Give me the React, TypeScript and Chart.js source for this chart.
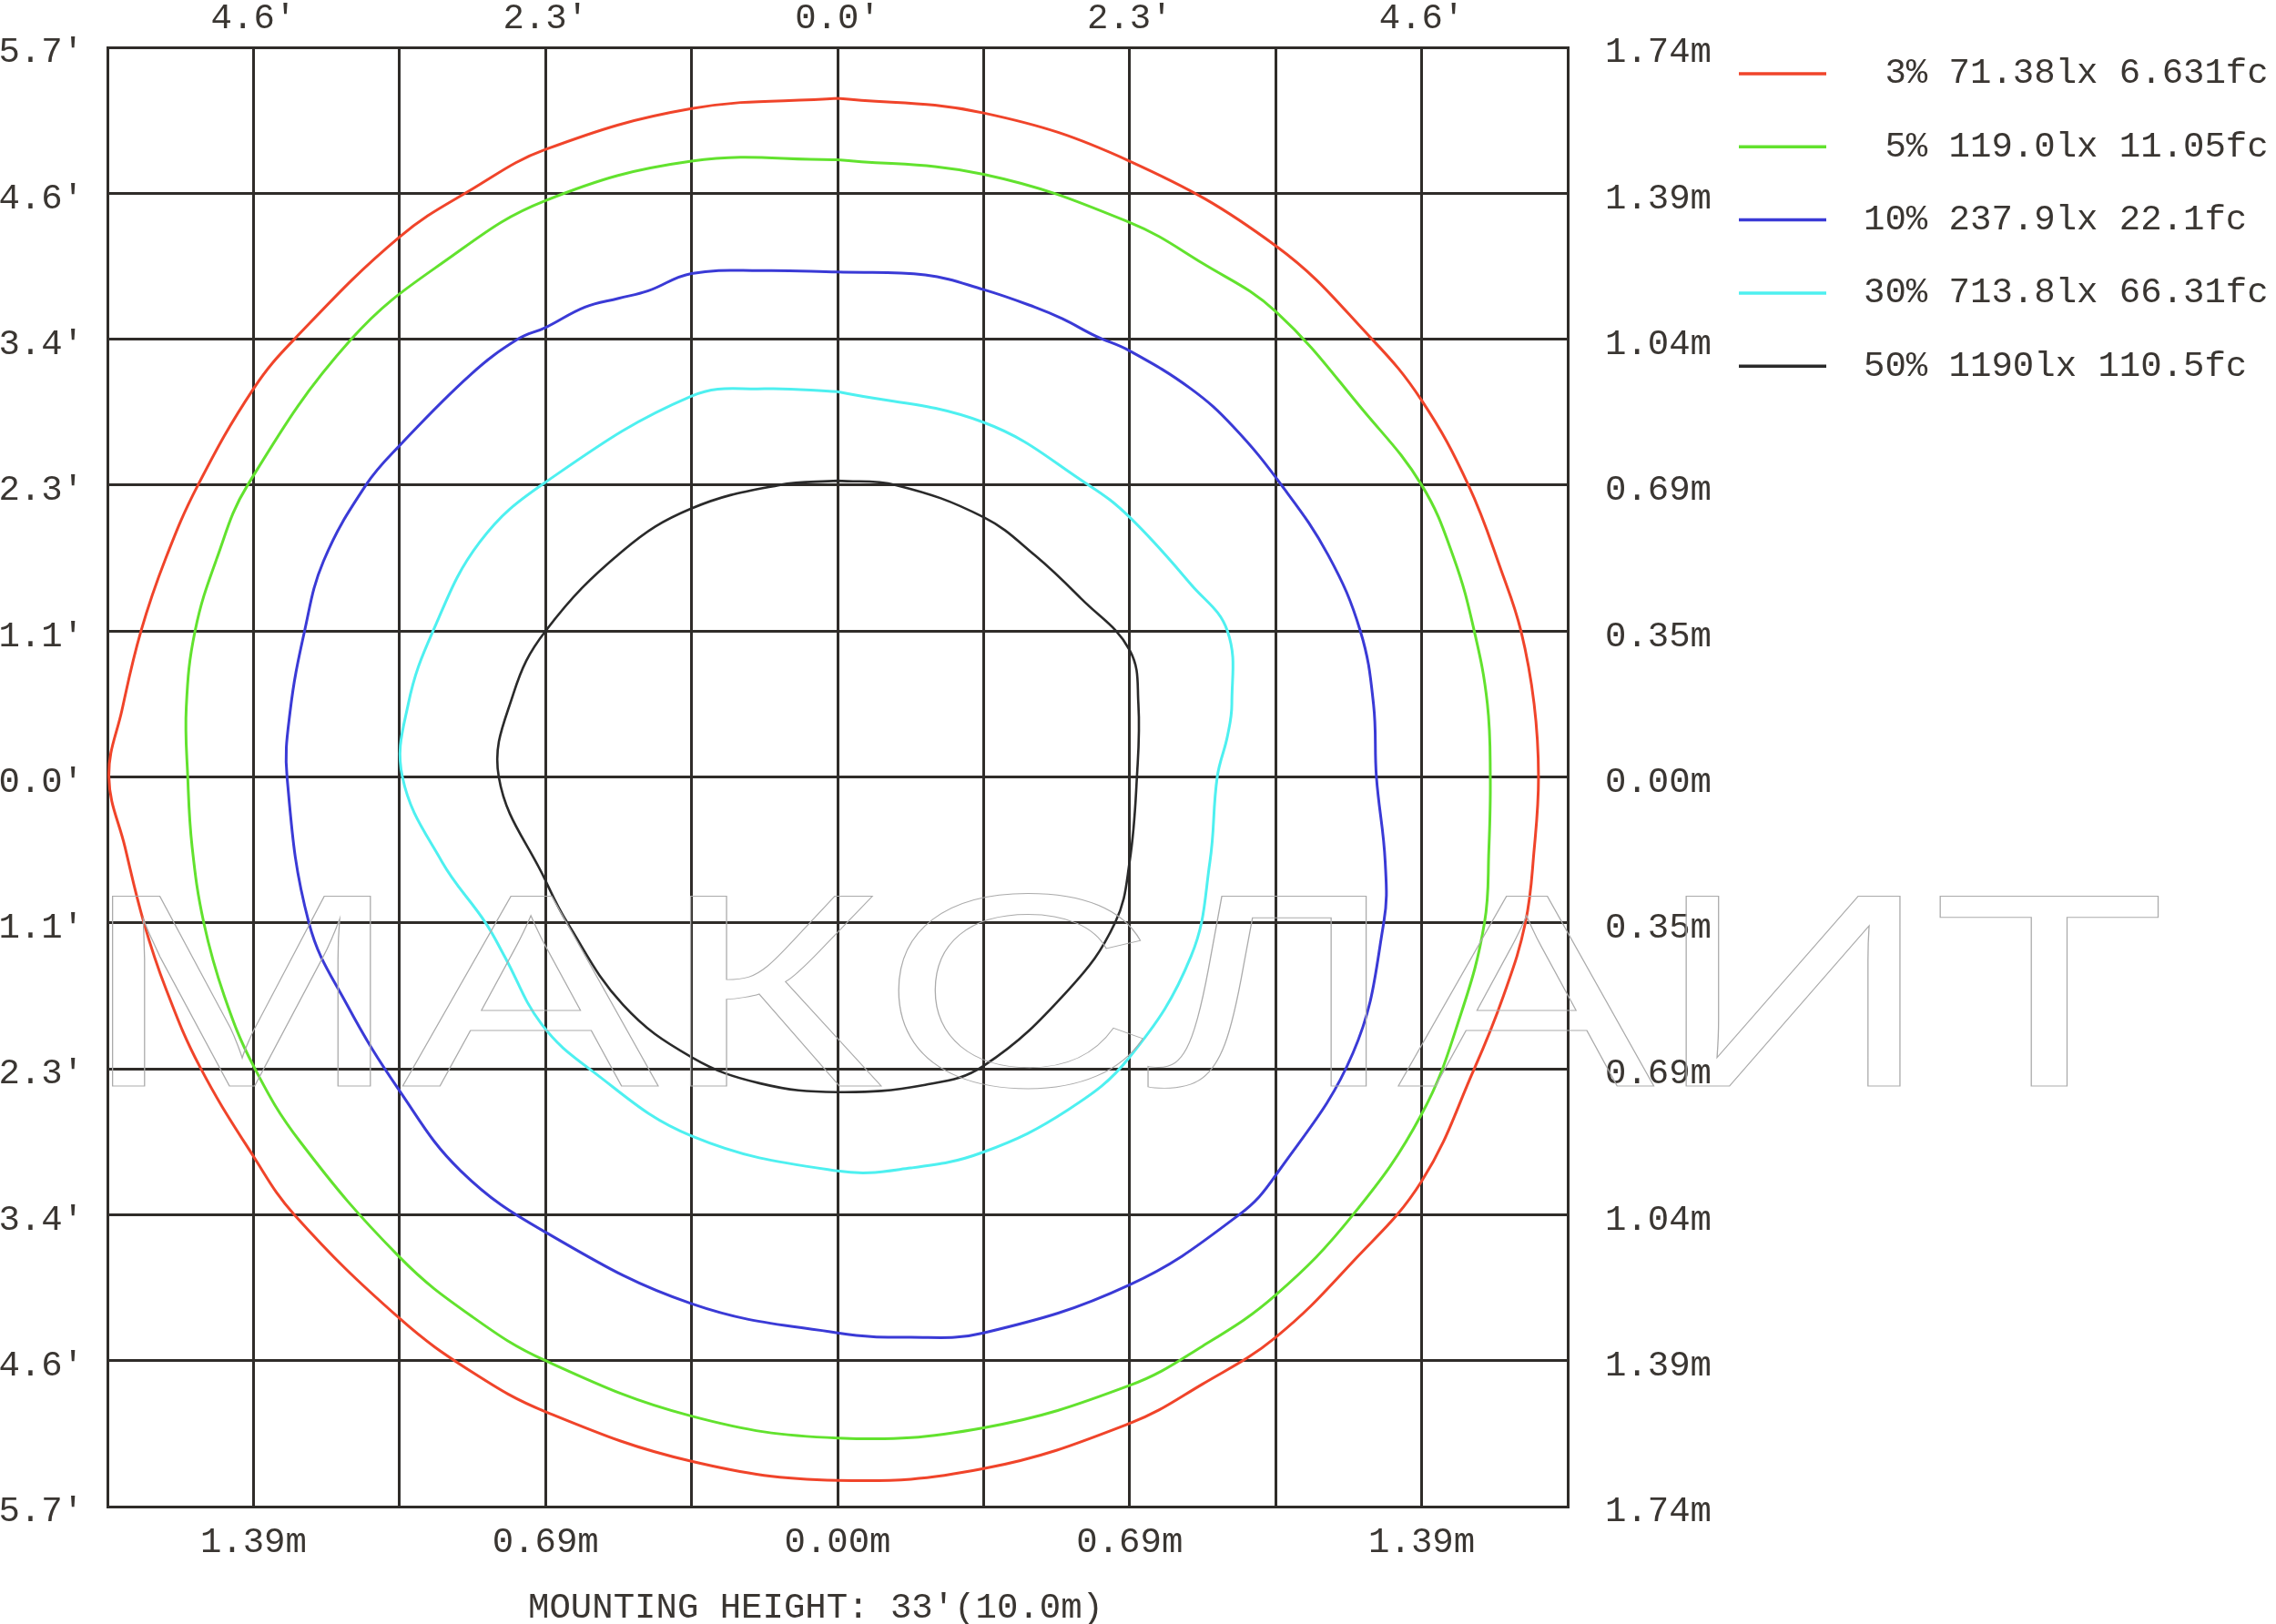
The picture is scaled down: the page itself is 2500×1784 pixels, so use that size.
import React, { useEffect, useRef } from "react";
import { Chart, registerables } from "chart.js";

Chart.register(...registerables);

const MONO = "'Liberation Mono', 'DejaVu Sans Mono', monospace";
const TEXT_COLOR = "#3a3632";
const GRID_COLOR = "#2f2c29";

// Tick labels
const topTickLabels = ["", "4.6'", "", "2.3'", "", "0.0'", "", "2.3'", "", "4.6'", ""];
const bottomTickLabels = ["", "1.39m", "", "0.69m", "", "0.00m", "", "0.69m", "", "1.39m", ""];
const leftTickLabels = ["5.7'", "4.6'", "3.4'", "2.3'", "1.1'", "0.0'", "1.1'", "2.3'", "3.4'", "4.6'", "5.7'"];
const rightTickLabels = ["1.74m", "1.39m", "1.04m", "0.69m", "0.35m", "0.00m", "0.35m", "0.69m", "1.04m", "1.39m", "1.74m"];
const axisTitle = "MOUNTING HEIGHT: 33'(10.0m)";
const watermarkText = "МАКСЛАИТ";

// Series
const seriesLabels = [" 3% 71.38lx 6.631fc", " 5% 119.0lx 11.05fc", "10% 237.9lx 22.1fc", "30% 713.8lx 66.31fc", "50% 1190lx 110.5fc"];
const seriesColors = ["#f0442a", "#62e22e", "#3a3ad6", "#4ef0f0", "#2a2a2a"];

// Iso-illuminance contours (grid units, 1 unit = 0.348 m), clockwise from the top
const contour3: [number, number][] = [
  [0, 4.65], [1, 4.55], [2, 4.22], [3, 3.64], [3.66, 3.0], [4, 2.58], [4.32, 2.0], [4.55, 1.4], [4.68, 1.0], [4.77, 0.5], [4.8, 0],
  [4.77, -0.5], [4.71, -1.0], [4.56, -1.5], [4.36, -2.0], [4, -2.77], [3.53, -3.32], [3, -3.84], [2.5, -4.16], [2, -4.43], [1, -4.74],
  [0, -4.82], [-1, -4.69], [-2, -4.35], [-2.5, -4.08], [-3, -3.71], [-3.72, -3.0], [-4, -2.6], [-4.37, -1.98], [-4.6, -1.45], [-4.75, -1.0], [-4.88, -0.48], [-4.99, 0],
  [-4.9, 0.46], [-4.77, 1.0], [-4.6, 1.5], [-4.38, 2.0], [-4, 2.66], [-3.72, 3.0], [-3, 3.7], [-2.5, 4.03], [-2, 4.3], [-1, 4.58], [0, 4.65],
];
const contour5: [number, number][] = [
  [0, 4.23], [1, 4.13], [2, 3.8], [2.5, 3.52], [3, 3.19], [3.61, 2.5], [4, 2.0], [4.22, 1.5], [4.36, 1.0], [4.45, 0.5], [4.47, 0],
  [4.46, -0.5], [4.43, -1], [4.27, -1.62], [4, -2.31], [3.53, -3.0], [3, -3.55], [2.5, -3.9], [2, -4.17], [1, -4.46],
  [0, -4.53], [-1, -4.38], [-2, -4.0], [-2.5, -3.7], [-3, -3.29], [-3.68, -2.5], [-4, -1.98], [-4.2, -1.5], [-4.34, -1], [-4.42, -0.48], [-4.45, 0],
  [-4.46, 0.48], [-4.4, 1.0], [-4.25, 1.5], [-4.04, 2.0], [-3.33, 3.0], [-2.64, 3.57], [-2, 3.95], [-1, 4.22], [0, 4.23],
];
const contour10: [number, number][] = [
  [0, 3.46], [0.6, 3.44], [1, 3.34], [1.35, 3.22], [1.54, 3.14], [1.77, 3.02], [2, 2.92], [2.42, 2.66], [2.71, 2.4], [3.04, 2.0], [3.36, 1.52], [3.58, 1.0], [3.67, 0.5], [3.69, 0],
  [3.75, -0.58], [3.74, -1], [3.53, -1.89], [3, -2.73], [2.75, -3.0], [2, -3.48], [1, -3.81], [0.5, -3.84],
  [0, -3.81], [-1, -3.61], [-2, -3.12], [-2.58, -2.7], [-3, -2.15], [-3.36, -1.56], [-3.62, -1], [-3.77, 0],
  [-3.75, 0.44], [-3.65, 1.0], [-3.52, 1.48], [-3.23, 2.0], [-3, 2.27], [-2.51, 2.76], [-2.19, 3.0], [-2, 3.08], [-1.73, 3.22], [-1.5, 3.28], [-1.3, 3.33], [-1.0, 3.45], [-0.5, 3.47], [0, 3.46],
];
const contour30: [number, number][] = [
  [0, 2.64], [1, 2.43], [1.72, 2.0], [2, 1.78], [2.42, 1.32], [2.67, 1.0], [2.7, 0.5], [2.67, 0.28], [2.6, 0],
  [2.55, -0.58], [2.42, -1.23], [2, -1.92], [1.58, -2.28], [1, -2.57], [0.5, -2.68],
  [0, -2.7], [-1, -2.46], [-1.7, -2.0], [-2.03, -1.69], [-2.28, -1.23], [-2.41, -1], [-2.71, -0.58], [-2.98, 0],
  [-2.94, 0.5], [-2.77, 1.0], [-2.45, 1.61], [-2, 2.02], [-1, 2.61], [-0.5, 2.66], [0, 2.64],
];
const contour50: [number, number][] = [
  [0, 2.03], [0.4, 2.0], [1, 1.78], [1.35, 1.52], [1.67, 1.22], [2, 0.87], [2.06, 0.5], [2.05, 0],
  [2, -0.58], [1.9, -1], [1.58, -1.46], [1, -1.98], [0.6, -2.11],
  [0, -2.16], [-0.53, -2.1], [-1, -1.92], [-1.47, -1.56], [-1.85, -1], [-2, -0.71], [-2.32, 0],
  [-2.22, 0.57], [-2, 1.0], [-1.47, 1.55], [-1, 1.84], [-0.4, 2.0], [0, 2.03],
];
const contours = [contour3, contour5, contour10, contour30, contour50];

const overlayPlugin = {
  id: "overlay",
  afterDraw(chart: any) {
    const { ctx, chartArea } = chart;
    ctx.save();
    // Legend
    const lx0 = chartArea.right + 188;
    const lx1 = chartArea.right + 284;
    const tx = chartArea.right + 325;
    chart.data.datasets.forEach((ds: any, i: number) => {
      const y = 81 + i * 80.3;
      ctx.strokeStyle = ds.borderColor;
      ctx.lineWidth = 3.5;
      ctx.beginPath();
      ctx.moveTo(lx0, y);
      ctx.lineTo(lx1, y);
      ctx.stroke();
      ctx.fillStyle = TEXT_COLOR;
      ctx.font = `39px ${MONO}`;
      ctx.textAlign = "left";
      ctx.textBaseline = "middle";
      ctx.fillText(ds.label, tx, y);
    });
    // Axis title
    ctx.font = `39px ${MONO}`;
    ctx.textAlign = "center";
    ctx.textBaseline = "middle";
    ctx.fillStyle = TEXT_COLOR;
    ctx.fillText(axisTitle, (chartArea.left + chartArea.right) / 2 - 24, chartArea.bottom + 112);
    // Watermark
    ctx.font = `300px 'Liberation Sans', sans-serif`;
    ctx.textAlign = "left";
    ctx.textBaseline = "alphabetic";
    const m = ctx.measureText(watermarkText);
    const inkW = m.actualBoundingBoxLeft + m.actualBoundingBoxRight;
    const capH = m.actualBoundingBoxAscent;
    const sx = 2251 / inkW;
    const sy = 213 / capH;
    ctx.translate(chartArea.left + 4 + m.actualBoundingBoxLeft * sx, chartArea.bottom - 462);
    ctx.scale(sx, sy);
    ctx.lineWidth = 1.3 / sx;
    ctx.strokeStyle = "#ababab";
    ctx.strokeText(watermarkText, 0, 0);
    ctx.restore();
  },
};

export default function App() {
  const ref = useRef<HTMLCanvasElement | null>(null);

  useEffect(() => {
    if (!ref.current) return;
    const tickFont = { family: MONO, size: 39 };
    const chart = new Chart(ref.current, {
      type: "scatter",
      data: {
        datasets: contours.map((c, i) => ({
          label: seriesLabels[i],
          data: c.map(([x, y]) => ({ x, y })),
          showLine: true,
          borderColor: seriesColors[i],
          backgroundColor: seriesColors[i],
          borderWidth: i === 4 ? 2.6 : 3,
          pointRadius: 0,
          tension: 0.4,
          fill: false,
        })),
      },
      options: {
        responsive: false,
        maintainAspectRatio: false,
        devicePixelRatio: 1,
        animation: false,
        layout: { padding: 0 },
        plugins: { legend: { display: false }, tooltip: { enabled: false } },
        scales: {
          x: {
            type: "linear",
            position: "bottom",
            min: -5,
            max: 5,
            ticks: {
              stepSize: 1,
              autoSkip: false,
              maxRotation: 0,
              padding: 16,
              color: TEXT_COLOR,
              font: tickFont,
              callback: (_v: any, i: number) => bottomTickLabels[i],
            },
            grid: { color: GRID_COLOR, lineWidth: 3, drawTicks: false },
            border: { color: GRID_COLOR, width: 3 },
            afterFit: (s: any) => { s.height = 129; },
          },
          xTop: {
            type: "linear",
            position: "top",
            min: -5,
            max: 5,
            ticks: {
              stepSize: 1,
              autoSkip: false,
              maxRotation: 0,
              padding: 8,
              color: TEXT_COLOR,
              font: tickFont,
              callback: (_v: any, i: number) => topTickLabels[i],
            },
            grid: { drawOnChartArea: false, drawTicks: false },
            border: { color: GRID_COLOR, width: 3 },
            afterFit: (s: any) => { s.height = 52; },
          },
          y: {
            type: "linear",
            position: "left",
            min: -5,
            max: 5,
            ticks: {
              stepSize: 1,
              autoSkip: false,
              padding: 10,
              labelOffset: 6,
              color: TEXT_COLOR,
              font: tickFont,
              callback: (_v: any, i: number) => leftTickLabels[leftTickLabels.length - 1 - i],
            },
            grid: { color: GRID_COLOR, lineWidth: 3, drawTicks: true, tickLength: 16, tickColor: "rgba(0,0,0,0)" },
            border: { color: GRID_COLOR, width: 3 },
            afterFit: (s: any) => { s.width = 118; },
          },
          yRight: {
            type: "linear",
            position: "right",
            min: -5,
            max: 5,
            ticks: {
              stepSize: 1,
              autoSkip: false,
              padding: 10,
              labelOffset: 6,
              color: TEXT_COLOR,
              font: tickFont,
              callback: (_v: any, i: number) => rightTickLabels[rightTickLabels.length - 1 - i],
            },
            grid: { drawOnChartArea: false, drawTicks: true, tickLength: 31, tickColor: "rgba(0,0,0,0)" },
            border: { color: GRID_COLOR, width: 3 },
            afterFit: (s: any) => { s.width = 778; },
          },
        },
      } as any,
      plugins: [overlayPlugin],
    });
    return () => chart.destroy();
  }, []);

  return (
    <div style={{ position: "absolute", left: 0, top: 0, width: 2500, height: 1784, background: "#fff" }}>
      <canvas ref={ref} width={2500} height={1784} style={{ display: "block", width: 2500, height: 1784 }} />
    </div>
  );
}
